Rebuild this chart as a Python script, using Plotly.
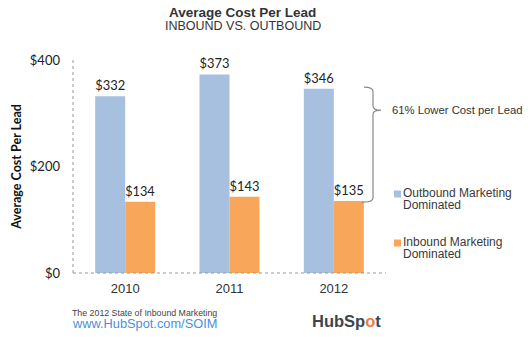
import plotly.graph_objects as go

years = ["2010", "2011", "2012"]
outbound = [332, 373, 346]
inbound = [134, 143, 135]
tick_vals = [0, 200, 400]
tick_text = ["$0", "$200", "$400"]

BLUE = "#a7c0df"
ORANGE = "#f8a65a"
SANS = "Liberation Sans, Arial, sans-serif"
CAL = "Lato, Carlito, Calibri, sans-serif"

# plot area in pixels: x 73..386, y 60..273
L, R, T, B = 73, 386, 60, 273
def px(x):
    return (x - L) / (R - L)
def py(y):
    return (B - y) / (B - T)

fig = go.Figure()
fig.add_trace(go.Bar(x=years, y=outbound, name="Outbound Marketing Dominated",
                     marker=dict(color=BLUE, line=dict(width=0)),
                     text=[f"${v}" for v in outbound], textposition="outside",
                     textfont=dict(family=CAL, size=13, color="#222"), cliponaxis=False))
fig.add_trace(go.Bar(x=years, y=inbound, name="Inbound Marketing Dominated",
                     marker=dict(color=ORANGE, line=dict(width=0)),
                     text=[f"${v}" for v in inbound], textposition="outside",
                     textfont=dict(family=CAL, size=13, color="#222"), cliponaxis=False))

fig.update_layout(
    width=530, height=337,
    margin=dict(l=L, r=530 - R, t=T, b=337 - B),
    paper_bgcolor="white", plot_bgcolor="white",
    barmode="group", bargap=0.425, bargroupgap=0,
    showlegend=False,
    xaxis=dict(range=[-0.5, 2.5], showgrid=False, showline=False, ticks="",
               ticklabelstandoff=6,
               tickfont=dict(family=SANS, size=13, color="#333")),
    yaxis=dict(range=[0, 400], tickvals=tick_vals, ticktext=tick_text,
               showgrid=False, zeroline=False, showline=False, ticks="",
               ticklabelstandoff=12,
               tickfont=dict(family=CAL, size=13, color="#222"),
               title=dict(text="<b>Average Cost Per Lead</b>", standoff=5,
                          font=dict(family=CAL, size=12.5, color="#111"))),
)

# dotted axis lines
fig.add_shape(type="line", xref="paper", yref="paper", x0=0, x1=0, y0=0, y1=1,
              line=dict(color="#999", width=1, dash="dot"))
fig.add_shape(type="line", xref="paper", yref="paper", x0=0, x1=1, y0=0, y1=0,
              line=dict(color="#999", width=1, dash="dot"))

# curly brace between 2012 outbound and inbound
ytop = outbound[2] + 3
ybot = inbound[2] - 2
ymid = ytop - (ytop - ybot) * 0.2
xl, xm, xr = px(364), px(373), px(381)
r = 8
path = (f"M {xl},{ytop} Q {xm},{ytop} {xm},{ytop - r} "
        f"L {xm},{ymid + r} Q {xm},{ymid} {xr},{ymid} "
        f"Q {xm},{ymid} {xm},{ymid - r} "
        f"L {xm},{ybot + r} Q {xm},{ybot} {px(362)},{ybot}")
fig.add_shape(type="path", xref="paper", yref="y", path=path,
              line=dict(color="#8a8a8a", width=1.2))

fig.add_annotation(x=px(390), xref="paper", y=ymid, yref="y", text="61% Lower Cost per Lead",
                   showarrow=False, xanchor="left", yanchor="middle",
                   font=dict(family=SANS, size=11.3, color="#333"))

# legend (manual)
leg = [(BLUE, "Outbound Marketing", "Dominated", 194),
       (ORANGE, "Inbound Marketing", "Dominated", 243)]
for color, l1, l2, yy in leg:
    fig.add_shape(type="rect", xref="paper", yref="paper",
                  x0=px(394), x1=px(401), y0=py(yy + 3.5), y1=py(yy - 3.5),
                  fillcolor=color, line=dict(width=0))
    fig.add_annotation(x=px(401), xref="paper", y=py(yy - 1), yref="paper",
                       text=l1, showarrow=False, xanchor="left", yanchor="middle",
                       font=dict(family=SANS, size=12, color="#3a3a3a"))
    fig.add_annotation(x=px(401), xref="paper", y=py(yy + 10.5), yref="paper",
                       text=l2, showarrow=False, xanchor="left", yanchor="middle",
                       font=dict(family=SANS, size=12, color="#3a3a3a"))

# titles
fig.add_annotation(x=px(243), xref="paper", y=py(13), yref="paper", yanchor="middle",
                   text="<b>Average Cost Per Lead</b>", showarrow=False,
                   font=dict(family=SANS, size=13.5, color="#333"))
fig.add_annotation(x=px(243), xref="paper", y=py(26), yref="paper", yanchor="middle",
                   text="INBOUND VS. OUTBOUND", showarrow=False,
                   font=dict(family=SANS, size=12.5, color="#333"))

# footer
fig.add_annotation(x=px(70), xref="paper", y=py(313), yref="paper",
                   text="The 2012 State of Inbound Marketing", showarrow=False,
                   xanchor="left", yanchor="middle",
                   font=dict(family=SANS, size=8.8, color="#444"))
fig.add_annotation(x=px(70), xref="paper", y=py(323), yref="paper",
                   text="www.HubSpot.com/SOIM", showarrow=False,
                   xanchor="left", yanchor="middle",
                   font=dict(family=SANS, size=12.8, color="#4a90dc"))
fig.add_annotation(x=px(310), xref="paper", y=py(321), yref="paper",
                   text="<b>HubSp<span style='color:#f47b3a'>o</span>t</b>", showarrow=False,
                   xanchor="left", yanchor="middle",
                   font=dict(family=SANS, size=16.5, color="#3d4650"))

fig.write_html("out.html")
